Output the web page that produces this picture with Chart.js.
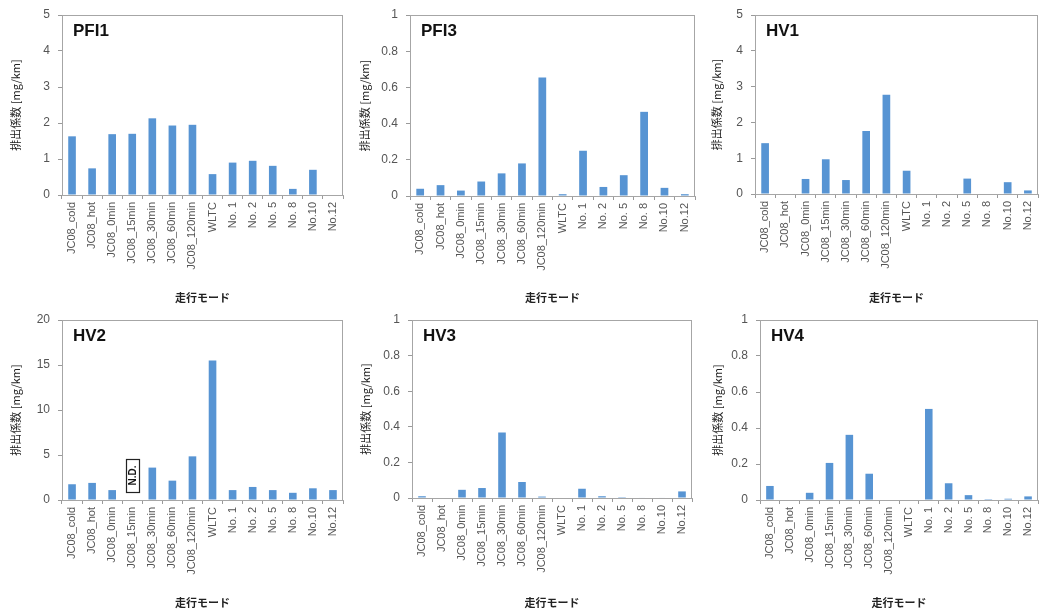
<!DOCTYPE html>
<html><head><meta charset="utf-8">
<script src="https://cdn.jsdelivr.net/npm/chart.js@4.4.1/dist/chart.umd.min.js"></script>
<style>
html,body{margin:0;padding:0;background:#fff;width:1041px;height:612px;overflow:hidden;position:relative}
canvas{position:absolute}
</style></head><body>
<script>
// ---- data ----
const categories = ['JC08_cold','JC08_hot','JC08_0min','JC08_15min','JC08_30min','JC08_60min','JC08_120min','WLTC','No. 1','No. 2','No. 5','No. 8','No.10','No.12'];
const pfi1 = [1.63,0.74,1.69,1.70,2.13,1.93,1.95,0.58,0.90,0.95,0.81,0.17,0.70,0];
const pfi3 = [0.04,0.06,0.03,0.08,0.125,0.18,0.655,0.01,0.25,0.05,0.115,0.465,0.045,0.01];
const hv1  = [1.42,0,0.42,0.97,0.39,1.76,2.77,0.65,0,0,0.43,0,0.33,0.10];
const hv2  = [1.75,1.9,1.1,null,3.6,2.15,4.85,15.5,1.1,1.45,1.1,0.8,1.3,1.1];
const hv3  = [0.01,0,0.046,0.056,0.368,0.09,0.008,0,0.052,0.01,0.005,0.003,0.003,0.037];
const hv4  = [0.078,0,0.04,0.206,0.362,0.146,0,0,0.506,0.093,0.027,0.005,0.007,0.02];
const panelNames = ['PFI1','PFI3','HV1','HV2','HV3','HV4'];
const yMax = [5,1,5,20,1,1];
const yStep = [1,0.2,1,5,0.2,0.2];
const yTitle = '排出係数 [mg/km]';
const xTitle = '走行モード';
const ndLabel = 'N.D.';

// ---- layout ----
const series = [pfi1,pfi3,hv1,hv2,hv3,hv4];
// plot area boxes [left, top, right, bottom] and y-title centre x
const boxes = [
  [62,15,343,195,16],
  [410,15,695,196,365],
  [755,15,1038,194,717],
  [62,320,343,500,16],
  [412,320,692,498,366],
  [760,320,1038,500,718]
];
const AXW = 62;
const fam = '"Liberation Sans", Arial, sans-serif';
const cjk = '"Noto Sans CJK JP", "Liberation Sans", sans-serif';

const framePlugin = {
  id: 'frame',
  afterDraw(chart, args, opts) {
    const {ctx, chartArea: a} = chart;
    ctx.save();
    ctx.strokeStyle = '#a6a6a6'; ctx.lineWidth = 1;
    ctx.strokeRect(Math.round(a.left)+0.5, Math.round(a.top)+0.5, Math.round(a.right-a.left)-1, Math.round(a.bottom-a.top));
    ctx.fillStyle = '#111';
    ctx.font = 'bold 17px ' + fam;
    ctx.textBaseline = 'middle'; ctx.textAlign = 'left';
    ctx.fillText(opts.name, a.left + 11, a.top + 16);
    if (opts.nd !== undefined) {
      const x = chart.scales.x.getPixelForValue(opts.nd);
      const bottom = a.bottom - 8, h = 33, w = 13;
      ctx.fillStyle = '#fff';
      ctx.fillRect(x - w/2, bottom - h, w, h);
      ctx.strokeStyle = '#222'; ctx.lineWidth = 1.2;
      ctx.strokeRect(Math.round(x - w/2)+0.5, bottom - h + 0.5, w, h);
      ctx.translate(x, bottom - h/2);
      ctx.rotate(-Math.PI/2);
      ctx.fillStyle = '#111';
      ctx.font = 'bold 10px ' + fam;
      ctx.textAlign = 'center'; ctx.textBaseline = 'middle';
      ctx.fillText(ndLabel, 0, 0.5);
    }
    ctx.restore();
  }
};

boxes.forEach((b, i) => {
  const [L, T, R, B, tc] = b;
  const row = i < 3 ? 0 : 1;
  const cy = row === 0 ? 0 : 305;
  const ch = 305;
  const cx = L - AXW;
  const cw = R + 3 - cx;
  const cv = document.createElement('canvas');
  cv.style.left = cx + 'px'; cv.style.top = cy + 'px';
  cv.style.width = cw + 'px'; cv.style.height = ch + 'px';
  cv.width = cw; cv.height = ch;
  document.body.appendChild(cv);
  const xh = cy + ch - B;
  const titleLH = 11 * 1.2;
  new Chart(cv, {
    type: 'bar',
    data: {
      labels: categories,
      datasets: [{
        data: series[i],
        backgroundColor: '#5794d3',
        borderWidth: 0,
        barPercentage: 0.38,
        categoryPercentage: 1
      }]
    },
    options: {
      responsive: false,
      animation: false,
      devicePixelRatio: 1,
      layout: { padding: { top: T - cy, right: cx + cw - R, left: 0, bottom: 0 } },
      plugins: {
        legend: { display: false },
        tooltip: { enabled: false },
        frame: { name: panelNames[i], nd: i === 3 ? 3 : undefined }
      },
      scales: {
        x: {
          grid: { display: true, offset: true, drawOnChartArea: false, drawTicks: true, tickLength: 4, color: '#9a9a9a' },
          border: { display: true, color: '#a6a6a6' },
          ticks: { minRotation: 90, maxRotation: 90, autoSkip: false, padding: 3, color: '#555', font: { family: fam, size: 11 } },
          title: { display: true, text: xTitle, color: '#222', font: { family: cjk, size: 11, weight: 'bold' }, padding: { top: 0, bottom: 1 } },
          afterFit: s => { s.height = xh; s.paddingLeft = 0; s.paddingRight = 0; }
        },
        y: {
          min: 0, max: yMax[i],
          grid: { display: true, drawOnChartArea: false, drawTicks: true, tickLength: 4, color: '#9a9a9a' },
          border: { display: true, color: '#a6a6a6' },
          ticks: { stepSize: yStep[i], padding: 8, color: '#555', font: { family: fam, size: 12 },
                   callback: v => String(+Number(v).toFixed(1)) },
          title: { display: true, text: yTitle, color: '#222', font: { family: cjk, size: 11 }, padding: { top: Math.max(0, tc - cx - titleLH/2), bottom: 0 } },
          afterFit: s => { s.width = AXW; s.paddingTop = 0; s.paddingBottom = 0; }
        }
      }
    },
    plugins: [framePlugin]
  });
});
</script>
</body></html>
